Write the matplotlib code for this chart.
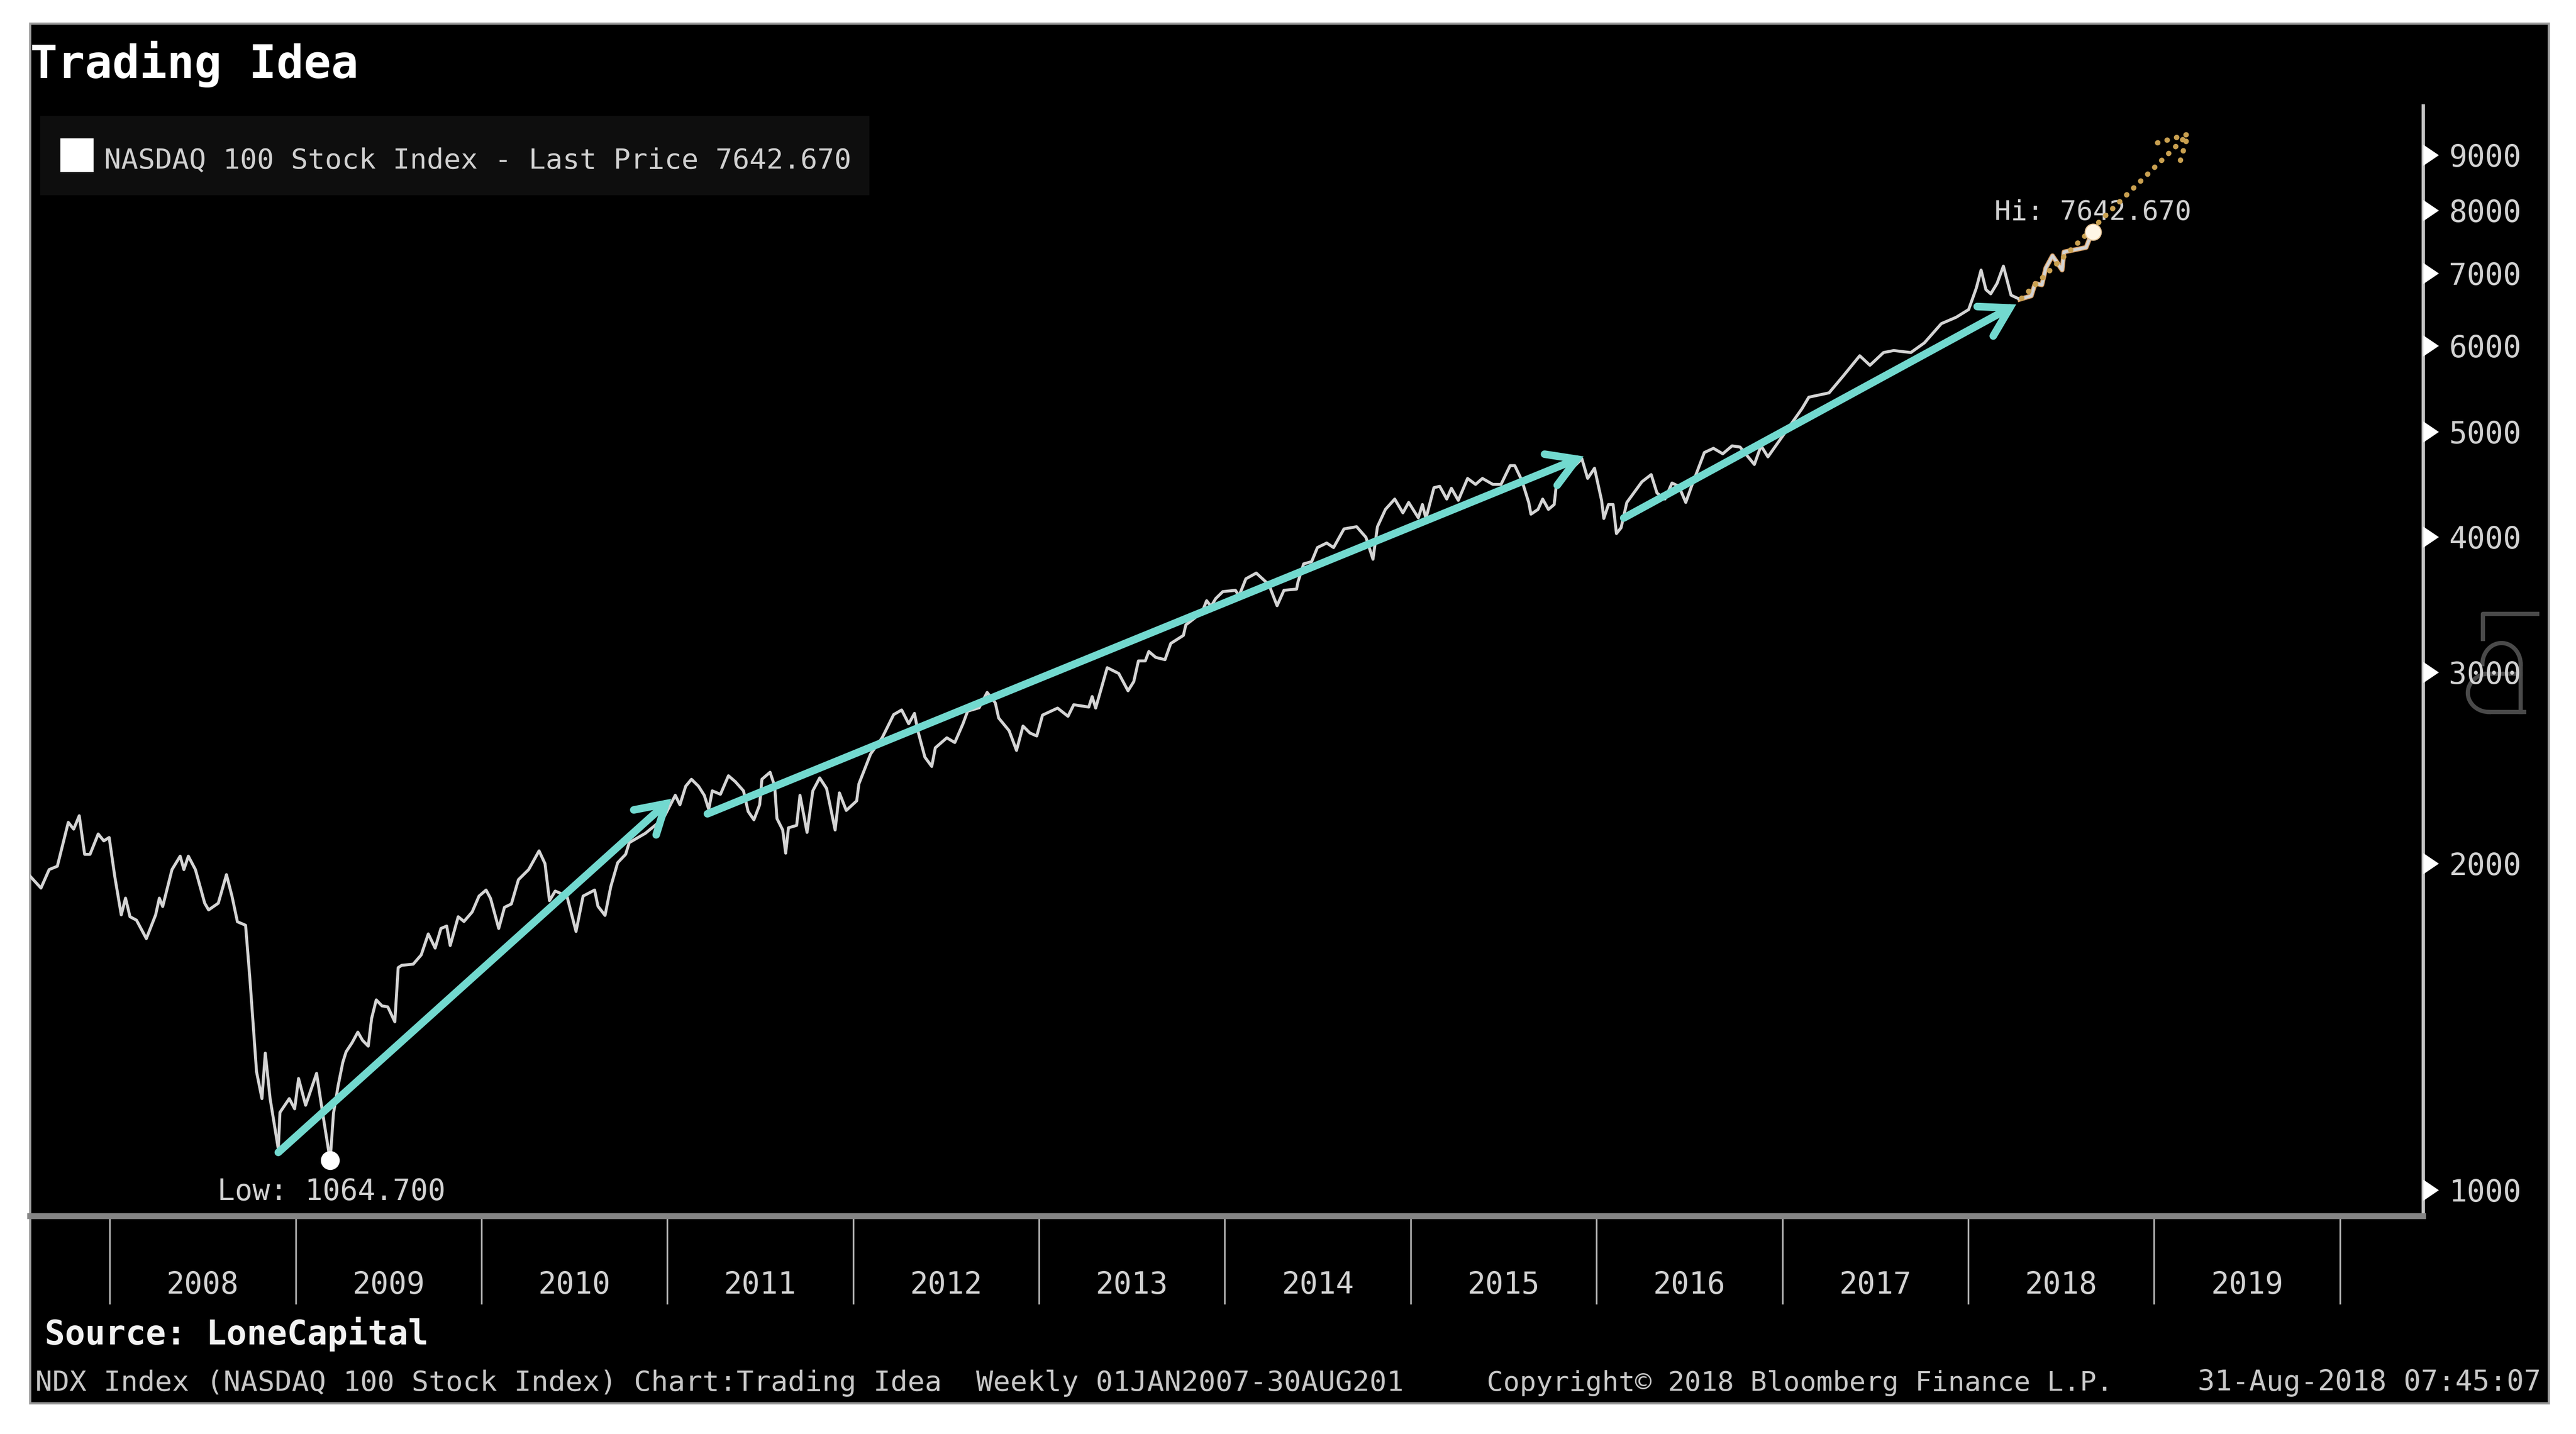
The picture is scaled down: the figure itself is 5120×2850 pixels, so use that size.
import numpy as np
import matplotlib
matplotlib.use("Agg")
import matplotlib.pyplot as plt
from matplotlib.patches import Rectangle
from matplotlib.lines import Line2D
from matplotlib.markers import CARETRIGHTBASE
from matplotlib.ticker import NullLocator

# ---------- data ----------
dates_2007_09 = [
 2007.572,2007.63,2007.674,2007.718,2007.777,2007.806,2007.836,2007.865,2007.894,2007.938,2007.968,2007.997,
 2008.027,2008.062,2008.085,2008.109,2008.144,2008.197,2008.247,2008.267,2008.285,2008.335,2008.379,2008.399,
 2008.423,2008.461,2008.511,2008.532,2008.584,2008.628,2008.658,2008.687,2008.731,2008.755,2008.790,2008.819,
 2008.837,2008.863,2008.907,2008.916,2008.966,2008.995,2009.016,2009.054,2009.113,2009.142,2009.186]
prices_2007_09 = [
 1946,1898,1974,1988,2182,2151,2213,2039,2039,2129,2098,2113,
 1946,1793,1858,1786,1773,1705,1793,1858,1825,1974,2031,1974,
 2031,1974,1838,1812,1838,1953,1865,1767,1754,1559,1285,1214,
 1337,1214,1091,1179,1214,1188,1267,1197,1281,1188,1064.7]

dates_2009_11 = [
 2009.204,2009.229,2009.254,2009.272,2009.304,2009.335,2009.360,2009.391,2009.409,2009.434,2009.465,2009.496,
 2009.534,2009.552,2009.571,2009.633,2009.676,2009.714,2009.751,2009.782,2009.813,2009.832,2009.875,2009.906,
 2009.950,2009.987,2010.025,2010.049,2010.093,2010.124,2010.161,2010.199,2010.254,2010.310,2010.342,2010.366,
 2010.397,2010.460,2010.509,2010.547,2010.609,2010.627,2010.665,2010.696,2010.733,2010.776,2010.795,2010.882,
 2010.977]
prices_2009_11 = [
 1177,1248,1311,1341,1367,1398,1374,1357,1439,1497,1478,1475,
 1429,1603,1611,1615,1647,1722,1671,1742,1751,1680,1786,1768,
 1804,1866,1890,1857,1742,1822,1835,1932,1974,2054,1999,1848,
 1886,1866,1731,1866,1890,1826,1791,1904,2003,2039,2090,2132,
 2198]

dates_2011_13 = [
 2011.043,2011.068,2011.099,2011.130,2011.168,2011.199,2011.223,2011.242,2011.286,2011.329,2011.366,2011.410,
 2011.435,2011.466,2011.497,2011.509,2011.553,2011.578,2011.590,2011.621,2011.637,2011.652,2011.696,2011.714,
 2011.752,2011.783,2011.820,2011.857,2011.903,2011.926,2011.963,2012.019,2012.031,2012.094,2012.156,2012.218,
 2012.261,2012.299,2012.330,2012.348,2012.386,2012.423,2012.442,2012.504,2012.547,2012.591,2012.616,2012.678,
 2012.721,2012.765,2012.783,2012.839,2012.879,2012.914,2012.951]
prices_2011_13 = [
 2311,2265,2356,2391,2356,2311,2243,2333,2316,2409,2379,2333,
 2233,2194,2265,2391,2427,2356,2200,2147,2044,2157,2168,2311,
 2136,2333,2398,2345,2147,2323,2238,2284,2368,2523,2611,2743,
 2770,2690,2750,2651,2506,2457,2556,2611,2585,2690,2763,2783,
 2875,2812,2723,2651,2542,2677,2638]

dates_2013_15 = [
 2012.988,2013.019,2013.100,2013.156,2013.187,2013.268,2013.286,2013.305,2013.367,2013.429,2013.479,2013.510,
 2013.535,2013.572,2013.591,2013.628,2013.678,2013.709,2013.777,2013.790,2013.877,2013.902,2013.926,2013.951,
 2013.989,2014.057,2014.076,2014.113,2014.169,2014.237,2014.281,2014.318,2014.386,2014.393,2014.424,2014.467,
 2014.498,2014.548,2014.585,2014.641,2014.709,2014.759,2014.797,2014.821]
prices_2013_15 = [
 2621,2740,2781,2733,2801,2787,2850,2781,3030,2993,2885,2942,
 3074,3074,3136,3097,3082,3190,3245,3318,3408,3493,3451,3509,
 3561,3571,3528,3659,3704,3614,3456,3571,3580,3632,3777,3795,
 3910,3948,3910,4068,4087,3996,3814,4087]

dates_2015_17 = [
 2014.864,2014.914,2014.958,2014.989,2015.041,2015.063,2015.082,2015.125,2015.156,2015.194,2015.219,2015.256,
 2015.306,2015.349,2015.386,2015.442,2015.486,2015.535,2015.560,2015.598,2015.635,2015.647,2015.685,2015.710,
 2015.741,2015.772,2015.784,2015.859,2015.921,2015.952,2015.989,2016.027,2016.039,2016.064,2016.089,2016.107,
 2016.132,2016.163,2016.244,2016.294,2016.325,2016.368,2016.406,2016.443,2016.480,2016.511,2016.580,2016.629,
 2016.679,2016.729,2016.772]
prices_2015_17 = [
 4240,4334,4209,4303,4165,4284,4159,4440,4453,4334,4434,4322,
 4528,4471,4528,4471,4471,4653,4653,4509,4303,4197,4240,4334,
 4240,4284,4471,4609,4721,4528,4627,4322,4159,4284,4284,4028,
 4078,4303,4496,4565,4390,4334,4484,4453,4303,4453,4784,4827,
 4771,4852,4840]

dates_2017_18 = [
 2016.849,2016.885,2016.922,2016.977,2017.032,2017.105,2017.142,2017.251,2017.325,2017.416,2017.471,
 2017.544,2017.599,2017.691,2017.764,2017.855,2017.935,2018.002,2018.043,2018.069,2018.095,2018.121,2018.155,
 2018.189,2018.230,2018.277,2018.339,2018.360,2018.396,2018.417,2018.453,2018.505,2018.515,2018.567,2018.634,
 2018.660,2018.671]
prices_2017_18 = [
 4664,4853,4740,4888,5041,5250,5380,5430,5622,5875,5757,
 5915,5940,5915,6038,6289,6375,6480,6780,7047,6760,6700,6850,
 7106,6681,6623,6671,6850,6829,7076,7264,7047,7323,7353,7393,
 7590,7642.67]

low_date, low_price = 2009.186, 1064.7
high_date, high_price = 2018.671, 7642.67
proj_start = 2018.277

arrow_starts = [(2008.907, 1083), (2011.216, 2222), (2016.146, 4163)]
arrow_tips = [(2011.021, 2294), (2015.930, 4745), (2018.258, 6551)]
forecast_start = (2018.287, 6636)
forecast_tip = (2019.205, 9480)

year_edges = list(range(2008, 2021))
year_labels = [str(y) for y in range(2008, 2020)]
price_ticks = [1000, 2000, 3000, 4000, 5000, 6000, 7000, 8000, 9000]

title = "Trading Idea"
legend_text = "NASDAQ 100 Stock Index - Last Price 7642.670"
source_text = "Source: LoneCapital"
footer_left = "NDX Index (NASDAQ 100 Stock Index) Chart:Trading Idea  Weekly 01JAN2007-30AUG201"
footer_mid = "Copyright\u00a9 2018 Bloomberg Finance L.P."
footer_right = "31-Aug-2018 07:45:07"

# ---------- figure ----------
W, H = 5120, 2850
DPI = 200
MONO = "DejaVu Sans Mono"
plt.rcParams["font.family"] = MONO


def fx(x):
    return x / W


def fy(y):
    return 1 - y / H


fig = plt.figure(figsize=(W / DPI, H / DPI), dpi=DPI, facecolor="white")

fig.patches.append(Rectangle((fx(60), fy(2789)), fx(5066 - 60), (2789 - 47) / H, transform=fig.transFigure,
                             facecolor="black", edgecolor="#9a9a9a", linewidth=1.6, zorder=-5))
fig.patches.append(Rectangle((fx(80), fy(388)), fx(1728 - 80), (388 - 230) / H, transform=fig.transFigure,
                             facecolor="#0e0e0e", edgecolor="none", zorder=2))
fig.patches.append(Rectangle((fx(120), fy(342)), fx(66), 67 / H, transform=fig.transFigure,
                             facecolor="white", edgecolor="none", zorder=3))

ax = fig.add_axes([fx(60), fy(2417), fx(4816 - 60), (2417 - 210) / H], facecolor="none")
ax.set_yscale("log")
ax.set_xlim(2007.572, 2020.447)
ax.set_ylim(946, 9989)

for s in ("left", "top"):
    ax.spines[s].set_visible(False)
ax.spines["right"].set_color("#c4c4c4")
ax.spines["right"].set_linewidth(2.4)
ax.spines["bottom"].set_color("#858585")
ax.spines["bottom"].set_linewidth(4.2)

ax.yaxis.tick_right()
ax.set_yticks(price_ticks)
ax.set_yticklabels([str(v) for v in price_ticks])
ax.yaxis.set_minor_locator(NullLocator())
ax.tick_params(axis="y", which="major", length=0, pad=18.5, labelsize=21.5, labelcolor="#d2d2d2")
ax.plot(np.ones(len(price_ticks)), price_ticks, ls="", marker=CARETRIGHTBASE, ms=15, color="white",
        mec="none", transform=ax.get_yaxis_transform(), clip_on=False, zorder=6)

ax.set_xticks(year_edges)
ax.set_xticklabels([""] * len(year_edges))
ax.set_xticks([y + 0.5 for y in year_edges[:-1]], labels=year_labels, minor=True)
ax.tick_params(axis="x", which="major", length=63, width=1.2, color="#b0b0b0")
ax.tick_params(axis="x", which="minor", length=0, pad=39, labelsize=21.5, labelcolor="#d2d2d2")

# price line, with the pale orange tint under the last stretch
d = np.array(dates_2007_09 + dates_2009_11 + dates_2011_13 + dates_2013_15 + dates_2015_17 + dates_2017_18)
p = np.array(prices_2007_09 + prices_2009_11 + prices_2011_13 + prices_2013_15 + prices_2015_17 + prices_2017_18)
mask = d >= proj_start
ax.plot(d[mask], p[mask], color="#d9a066", lw=3.4, zorder=3, solid_joinstyle="round")
ax.plot(d, p, color="#d4d4d4", lw=2.1, zorder=4, solid_joinstyle="round")

# trend arrows
for start, tip in zip(arrow_starts, arrow_tips):
    ax.annotate("", xy=tip, xytext=start, zorder=7,
                arrowprops=dict(arrowstyle="->,head_length=20,head_width=12", mutation_scale=1,
                                color="#72d9cf", lw=5.4, shrinkA=0, shrinkB=0,
                                capstyle="round", joinstyle="miter"))

# dotted forecast arrow
ax.annotate("", xy=forecast_tip, xytext=forecast_start, zorder=5,
            arrowprops=dict(arrowstyle="->,head_length=20,head_width=11", mutation_scale=1,
                            color="#c9a050", lw=3.8, shrinkA=0, shrinkB=0,
                            linestyle=(0, (0.05, 1.8)), capstyle="round"))

# extreme markers and labels
ax.plot([low_date], [low_price], ls="", marker="o", ms=13.5, color="white", mec="none", zorder=8, clip_on=False)
ax.plot([high_date], [high_price], ls="", marker="o", ms=11.5, color="#fff6e6", mec="#e8c79a", mew=0.8, zorder=8)
ax.annotate("Low: 1064.700", xy=(low_date, low_price), xytext=(1, -28), textcoords="offset points",
            ha="center", va="baseline", fontsize=20.9, color="#d2d2d2", zorder=9)
ax.annotate("Hi: 7642.670", xy=(high_date, high_price), xytext=(0, 8.6), textcoords="offset points",
            ha="center", va="baseline", fontsize=19.5, color="#d2d2d2", zorder=4.5)

# heading, legend and footer
fig.text(fx(60), fy(155), title, fontsize=32.5, fontweight="bold", color="white", va="baseline", ha="left")
fig.text(fx(207), fy(334), legend_text, fontsize=20.2, color="#d0d0d0", va="baseline", ha="left", zorder=4)
fig.text(fx(89), fy(2672), source_text, fontsize=24, fontweight="bold", color="#f2f2f2", va="baseline", ha="left")
fig.text(fx(70), fy(2764), footer_left, fontsize=20.3, color="#c8c8c8", va="baseline", ha="left")
fig.text(fx(2955), fy(2764), footer_mid, fontsize=19.6, color="#c8c8c8", va="baseline", ha="left")
fig.text(fx(4368), fy(2764), footer_right, fontsize=20.4, color="#c8c8c8", va="baseline", ha="left")

# faint vendor mark behind the 3000 label, drawn as outline strokes
mark = "#4a4a4a"
th1 = np.linspace(0, np.pi, 40)
th2 = np.linspace(np.pi / 2, 3 * np.pi / 2, 40)
mark_paths = [
    ([5043, 4935, 4935], [1220, 1220, 1270]),
    (list(4972 + 38 * np.cos(th1)), list(1320 - 42 * np.sin(th1))),
    (list(4947 + 42 * np.cos(th2)), list(1377 - 38 * np.sin(th2))),
    ([5010, 5010], [1320, 1415]),
    ([4947, 5017], [1415, 1415]),
    ([4934, 5010], [1339, 1339]),
]
for xs, ys in mark_paths:
    fig.add_artist(Line2D([fx(v) for v in xs], [fy(v) for v in ys], color=mark, lw=3.0, zorder=-1))

fig.savefig("out.png", dpi=DPI, facecolor="white")
